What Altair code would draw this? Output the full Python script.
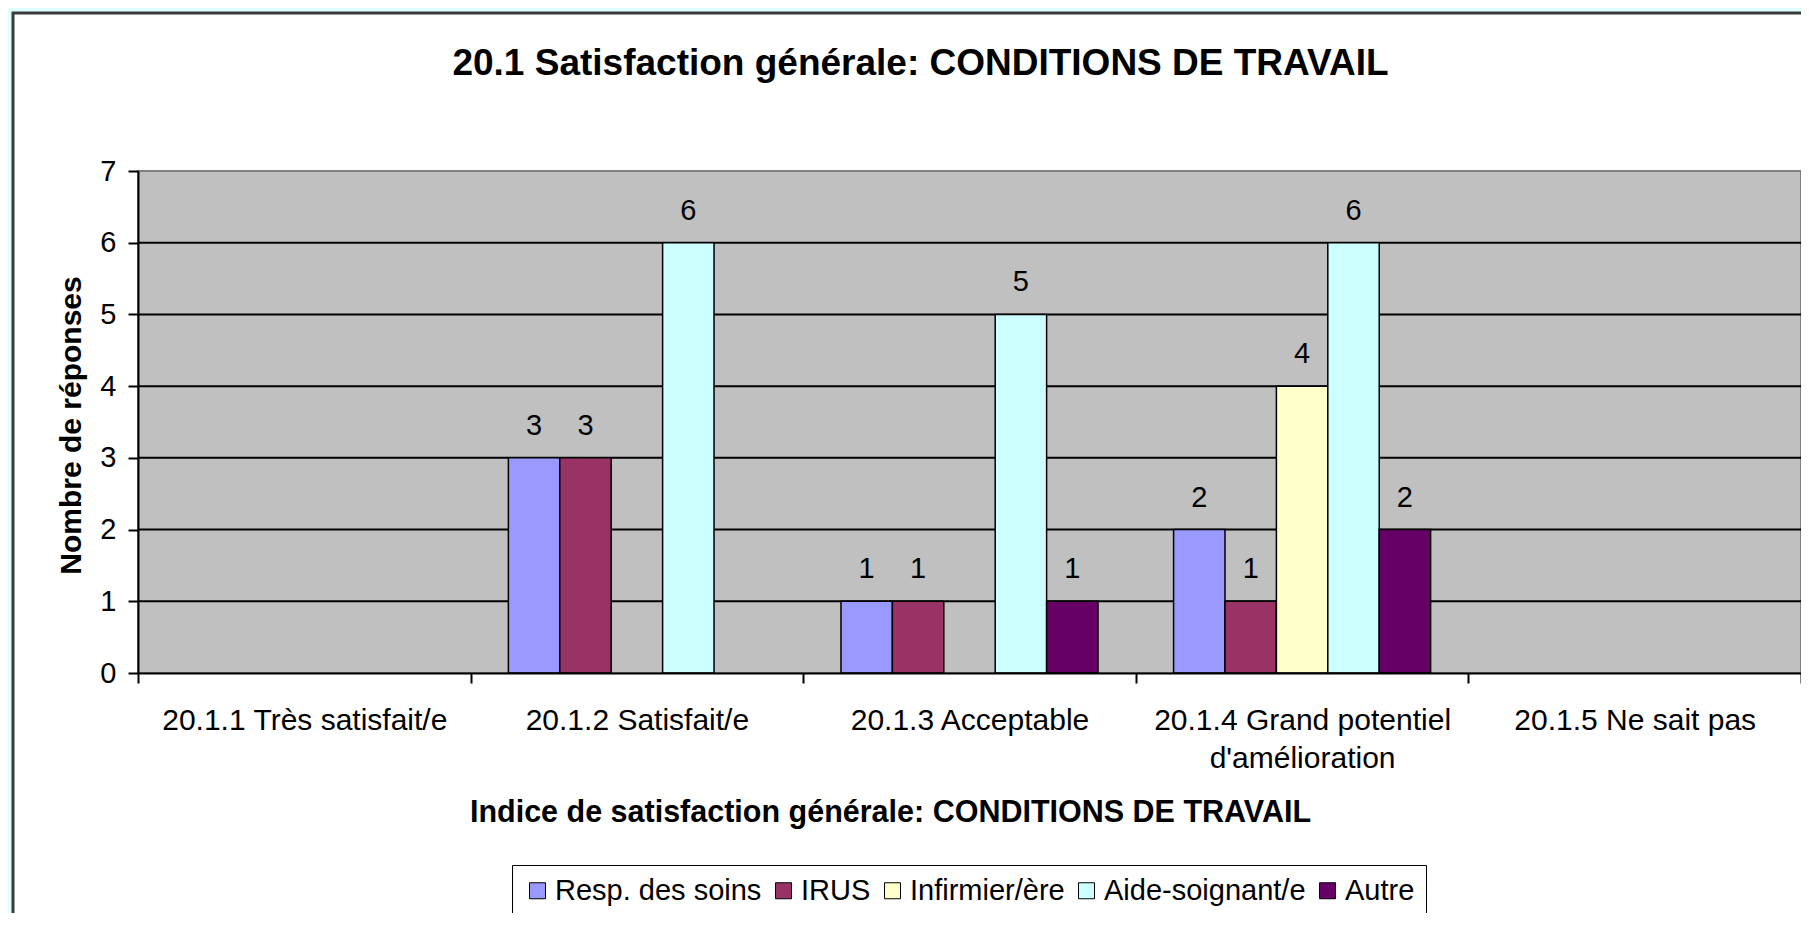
import altair as alt
import pandas as pd

# ---- data ----
categories = [
    "20.1.1 Très satisfait/e",
    "20.1.2 Satisfait/e",
    "20.1.3 Acceptable",
    "20.1.4 Grand potentiel d'amélioration",
    "20.1.5 Ne sait pas",
]
series = ["Resp. des soins", "IRUS", "Infirmier/ère", "Aide-soignant/e", "Autre"]
colors = ["#9999FF", "#993366", "#FFFFCC", "#CCFFFF", "#660066"]

resp_soins = [0, 3, 1, 2, 0]
irus = [0, 3, 1, 1, 0]
infirmier = [0, 0, 0, 4, 0]
aide_soignant = [0, 6, 5, 6, 0]
autre = [0, 0, 1, 2, 0]

y_ticks = [0, 1, 2, 3, 4, 5, 6, 7]
grid_values = [1, 2, 3, 4, 5, 6]

title_text = "20.1 Satisfaction générale: CONDITIONS DE TRAVAIL"
x_title = "Indice de satisfaction générale: CONDITIONS DE TRAVAIL"
y_title = "Nombre de réponses"

rows = []
for s, vals in zip(series, [resp_soins, irus, infirmier, aide_soignant, autre]):
    for c, v in zip(categories, vals):
        rows.append({"cat": c, "serie": s, "n": v})
df = pd.DataFrame(rows)
df_pos = df[df["n"] > 0]

W, H = 1663, 502
FONT = "Liberation Sans"

yscale = alt.Scale(domain=[0, 7], nice=False, zero=True)
xscale = alt.Scale(domain=categories, paddingInner=0, paddingOuter=0)
offscale = alt.Scale(domain=series, paddingInner=0, paddingOuter=0.735)

label_expr = (
    "datum.value == \"20.1.4 Grand potentiel d'amélioration\" ? "
    "['20.1.4 Grand potentiel', \"d'amélioration\"] : datum.value"
)

xaxis = alt.Axis(
    title=x_title, titleFontSize=30.5, titleFontWeight="bold", titleColor="black",
    titleX=752, titleY=148, titleAlign="center", titleBaseline="alphabetic",
    labelAngle=0, labelFontSize=30, labelColor="black", labelPadding=22,
    labelLineHeight=38, labelExpr=label_expr, labelLimit=500,
    tickBand="extent", tickSize=10, tickWidth=2, tickColor="black",
    domainColor="black", domainWidth=2, grid=False, zindex=1,
)
yaxis = alt.Axis(
    values=y_ticks, format="d", title=y_title, titleFontSize=30, titleFontWeight="bold",
    titleColor="black", titleX=-58, titleY=254, titleAlign="center",
    titleBaseline="alphabetic",
    labelFontSize=29, labelColor="black", labelPadding=12,
    tickSize=10, tickWidth=2, tickColor="black",
    domainColor="black", domainWidth=2, grid=False, zindex=1,
)

one = pd.DataFrame({"k": [0]})

frame = alt.Chart(one).mark_rect(fill="white", stroke="#3a3a3a", strokeWidth=3).encode(
    x=alt.value(-125), x2=alt.value(W + 300), y=alt.value(-158), y2=alt.value(H + 500)
)
plotbg = alt.Chart(one).mark_rect(fill="#C0C0C0", stroke="#808080", strokeWidth=2).encode(
    x=alt.value(0), x2=alt.value(W), y=alt.value(0), y2=alt.value(H)
)
grid = alt.Chart(pd.DataFrame({"n": grid_values})).mark_rule(
    color="black", strokeWidth=2
).encode(
    y=alt.Y("n:Q", scale=yscale, axis=yaxis), x=alt.value(0), x2=alt.value(W)
)

bars = alt.Chart(df_pos).mark_bar(stroke="black", strokeWidth=1.5, opacity=1).encode(
    x=alt.X("cat:N", sort=categories, scale=xscale, axis=xaxis),
    xOffset=alt.XOffset("serie:N", sort=series, scale=offscale),
    y=alt.Y("n:Q", scale=yscale, axis=yaxis),
    color=alt.Color(
        "serie:N", sort=series, scale=alt.Scale(domain=series, range=colors),
        legend=alt.Legend(
            orient="none", legendX=374, legendY=694, direction="horizontal",
            title=None, symbolType="square", symbolSize=256,
            symbolStrokeColor="black", symbolStrokeWidth=1, symbolOpacity=1,
            labelFontSize=29, labelColor="black", labelOffset=3, labelFont=FONT,
            columnPadding=7, padding=11, strokeColor="black", fillColor="white",
            labelLimit=500,
        ),
    ),
)

labels = alt.Chart(df_pos).mark_text(
    fontSize=29, color="black", baseline="alphabetic", dy=-23, font=FONT
).encode(
    x=alt.X("cat:N", sort=categories, scale=xscale, axis=xaxis),
    xOffset=alt.XOffset("serie:N", sort=series, scale=offscale),
    y=alt.Y("n:Q", scale=yscale, axis=yaxis),
    text=alt.Text("n:Q"),
)

chart = alt.layer(frame, plotbg, grid, bars, labels).properties(
    width=W,
    height=H,
    title=alt.TitleParams(
        title_text, fontSize=37, fontWeight="bold", color="black", anchor="middle",
        frame="group", dx=-49, baseline="alphabetic", offset=-100, font=FONT,
    ),
    padding={"left": 130, "top": 163, "right": 0, "bottom": 240},
    autosize=alt.AutoSizeParams(type="none"),
).configure(
    font=FONT, background="#E0FFFF"
).configure_view(stroke=None)

chart.save("out.html", embed_options={"renderer": "svg", "actions": False})
